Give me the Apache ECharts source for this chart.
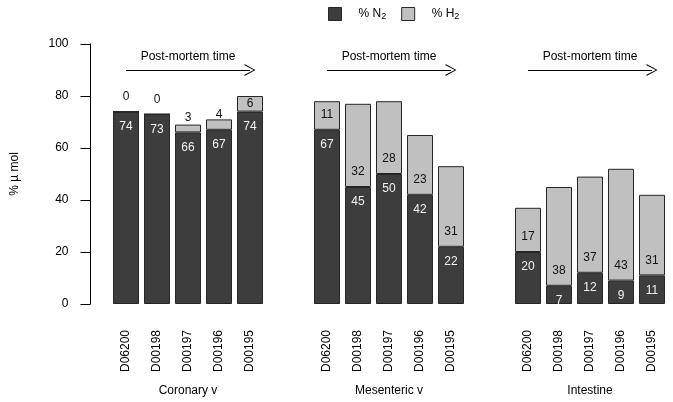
<!DOCTYPE html>
<html>
<head>
<meta charset="utf-8">
<script src="https://cdn.jsdelivr.net/npm/echarts@6/dist/echarts.min.js"></script>
<style>html,body{margin:0;padding:0;background:#fff}#c{width:673px;height:402px}</style>
</head>
<body>
<div id="c"></div>
<script>
var categories = ['D06200', 'D00198', 'D00197', 'D00196', 'D00195'];
var groupNames = ['Coronary v', 'Mesenteric v', 'Intestine'];
var coronaryN2 = [74, 73, 66, 67, 74];
var coronaryH2 = [0, 0, 3, 4, 6];
var mesentericN2 = [67, 45, 50, 42, 22];
var mesentericH2 = [11, 32, 28, 23, 31];
var intestineN2 = [20, 7, 12, 9, 11];
var intestineH2 = [17, 38, 37, 43, 31];
var yTicks = [0, 20, 40, 60, 80, 100];
var arrowLabel = 'Post-mortem time';
var yTitle = '% µ mol';

var FONT = 'Liberation Sans';
var DARK = '#3d3d3d', LIGHT = '#c0c0c0', EDGE = '#262626';
var n2Sets = [coronaryN2, mesentericN2, intestineN2];
var h2Sets = [coronaryH2, mesentericH2, intestineH2];
var gridLefts = [110.5, 311.5, 512.5];

var grids = [], xAxes = [], yAxes = [], series = [];
for (var g = 0; g < 3; g++) {
  grids.push({left: gridLefts[g], width: 155, top: 44, bottom: 95});
  xAxes.push({
    type: 'category', gridIndex: g, data: categories,
    axisLine: {show: false}, axisTick: {show: false},
    axisLabel: {rotate: 90, margin: 26, fontSize: 12, color: '#000', fontFamily: FONT},
    name: groupNames[g], nameLocation: 'middle', nameGap: 81,
    nameTextStyle: {fontSize: 12, color: '#000', fontFamily: FONT}
  });
  yAxes.push({
    type: 'value', gridIndex: g, min: yTicks[0], max: yTicks[yTicks.length - 1], interval: 20,
    show: g === 0, offset: 20,
    splitLine: {show: false},
    axisLine: {show: true, lineStyle: {color: '#000', width: 1}},
    axisTick: {show: true, length: 10, lineStyle: {color: '#000'}},
    axisLabel: {margin: 22, fontSize: 12, color: '#000', fontFamily: FONT},
    name: yTitle, nameLocation: 'middle', nameGap: 70,
    nameTextStyle: {fontSize: 12, color: '#000', fontFamily: FONT}
  });
  series.push({
    name: 'N2', type: 'bar', stack: 's' + g, xAxisIndex: g, yAxisIndex: g,
    barWidth: 26, data: n2Sets[g],
    itemStyle: {color: DARK, borderColor: EDGE, borderWidth: 1},
    label: {show: true, position: 'insideTop', distance: 9, color: '#f2f2f2', fontSize: 12, fontFamily: FONT},
    silent: true
  });
  var h2data = h2Sets[g].map(function (v, i) {
    if (v > 4 && v < 10) return {value: v, label: {position: 'inside'}};
    return v;
  });
  series.push({
    name: 'H2', type: 'bar', stack: 's' + g, xAxisIndex: g, yAxisIndex: g,
    barWidth: 26, data: h2data,
    itemStyle: {color: LIGHT, borderColor: EDGE, borderWidth: 1},
    label: {show: true, position: 'insideBottom', distance: 9, color: '#111', fontSize: 12, fontFamily: FONT},
    silent: true,
    markLine: {
      silent: true, animation: false,
      symbol: ['none', 'path://M0,10 L5,0 L10,10 L9,10 L5,1.6 L1,10 Z'],
      symbolSize: [12, 11],
      lineStyle: {color: '#000', width: 1, type: 'solid'},
      label: {show: true, position: 'insideMiddleTop', distance: 7, formatter: arrowLabel,
              color: '#000', fontSize: 12, fontFamily: FONT},
      data: [[{coord: [0, 90]}, {coord: [3.83, 90]}]]
    }
  });
}

var chart = echarts.init(document.getElementById('c'), null, {renderer: 'canvas'});
chart.setOption({
  animation: false,
  backgroundColor: '#fff',
  textStyle: {fontFamily: FONT},
  legend: {
    left: 328, top: 7, padding: 0, itemWidth: 13, itemHeight: 13, itemGap: 15,
    icon: 'rect',
    data: [
      {name: 'N2', itemStyle: {color: DARK, borderColor: EDGE, borderWidth: 1}},
      {name: 'H2', itemStyle: {color: LIGHT, borderColor: EDGE, borderWidth: 1}}
    ],
    formatter: function (n) { return '{a|% ' + n.charAt(0) + '}{b|' + n.charAt(1) + '}'; },
    textStyle: {
      color: '#000', fontFamily: FONT, padding: [0, 0, 0, 12],
      rich: {a: {fontSize: 12, color: '#000', fontFamily: FONT},
             b: {fontSize: 9, color: '#000', fontFamily: FONT, padding: [6, 0, 0, 0]}}
    },
    selectedMode: false
  },
  grid: grids, xAxis: xAxes, yAxis: yAxes, series: series
});
</script>
</body>
</html>
